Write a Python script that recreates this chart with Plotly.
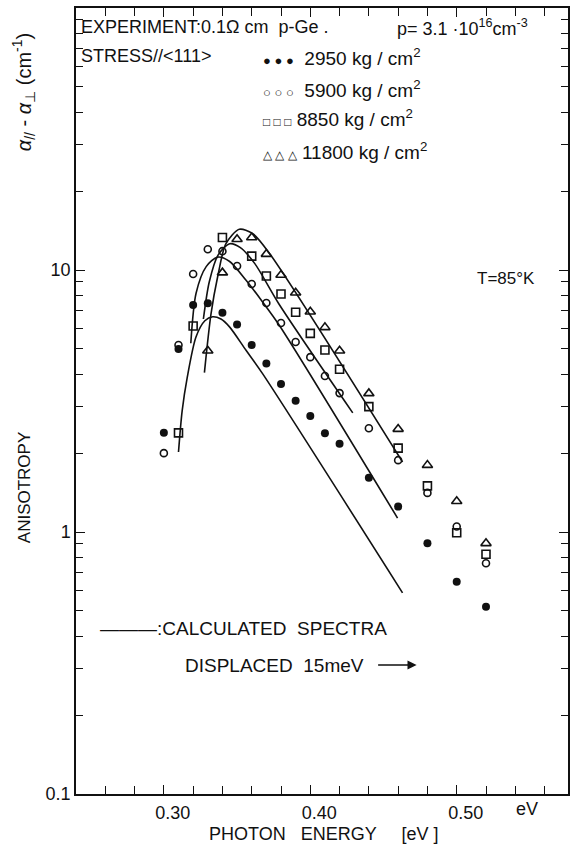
import plotly.graph_objects as go

# ---------------- data ----------------
energy_2950 = [0.30, 0.31, 0.32, 0.33, 0.34, 0.35, 0.36, 0.37, 0.38, 0.39, 0.40, 0.41, 0.42, 0.44, 0.46, 0.48, 0.50, 0.52]
aniso_2950 = [2.39, 4.99, 7.35, 7.46, 6.87, 6.20, 5.17, 4.40, 3.67, 3.17, 2.77, 2.38, 2.17, 1.61, 1.25, 0.905, 0.646, 0.519]

energy_5900 = [0.30, 0.31, 0.32, 0.33, 0.34, 0.35, 0.36, 0.37, 0.38, 0.39, 0.40, 0.41, 0.42, 0.44, 0.46, 0.48, 0.50, 0.52]
aniso_5900 = [2.00, 5.17, 9.65, 12.0, 11.8, 10.36, 8.84, 7.48, 6.28, 5.31, 4.65, 3.94, 3.39, 2.49, 1.88, 1.41, 1.05, 0.76]

energy_8850 = [0.31, 0.32, 0.34, 0.36, 0.37, 0.38, 0.39, 0.40, 0.41, 0.42, 0.44, 0.46, 0.48, 0.50, 0.52]
aniso_8850 = [2.39, 6.11, 13.3, 11.3, 9.49, 8.10, 6.90, 5.73, 4.95, 4.18, 3.01, 2.09, 1.50, 0.994, 0.822]

energy_11800 = [0.33, 0.34, 0.35, 0.36, 0.37, 0.38, 0.39, 0.40, 0.41, 0.42, 0.44, 0.46, 0.48, 0.50, 0.52]
aniso_11800 = [4.92, 9.77, 13.1, 13.3, 11.5, 9.57, 8.19, 6.93, 6.04, 4.92, 3.38, 2.47, 1.80, 1.31, 0.905]

# calculated spectra (displaced 15 meV)
calc1_e = [0.310, 0.3125, 0.316, 0.322, 0.328, 0.3333, 0.339, 0.3447, 0.356, 0.3673, 0.463]
calc1_v = [2.02, 2.9, 3.9, 5.56, 6.4, 6.63, 6.5, 6.08, 4.95, 4.03, 0.586]

calc2_e = [0.3184, 0.322, 0.3289, 0.3367, 0.3447, 0.356, 0.3673, 0.3787, 0.4596]
calc2_v = [5.25, 8.15, 10.3, 11.2, 10.8, 9.16, 7.57, 6.17, 1.13]

calc3_e = [0.327, 0.331, 0.337, 0.345, 0.352, 0.362, 0.3787, 0.429]
calc3_v = [6.5, 9.0, 11.4, 12.6, 12.2, 10.6, 7.4, 2.85]

calc4_e = [0.3277, 0.3322, 0.3367, 0.3424, 0.3515, 0.3605, 0.3720, 0.463]
calc4_v = [4.06, 6.8, 9.4, 12.6, 14.3, 13.8, 11.6, 1.85]

x_tick_vals = [0.30, 0.40, 0.50]
x_tick_text = ["0.30", "0.40", "0.50"]
x_minor_vals = [0.24, 0.26, 0.28, 0.32, 0.34, 0.36, 0.38, 0.42, 0.44, 0.46, 0.48, 0.52, 0.54, 0.56]
y_tick_vals = [0.1, 1, 10]
y_tick_text = ["0.1", "1", "10"]
y_minor_vals = [m * d for d in (0.1, 1, 10) for m in range(2, 10)]

FONT = "Liberation Sans"
BLACK = "#111111"

fig = go.Figure()

for ce, cv in [(calc1_e, calc1_v), (calc2_e, calc2_v), (calc3_e, calc3_v), (calc4_e, calc4_v)]:
    fig.add_trace(go.Scatter(x=ce, y=cv, mode="lines",
                             line=dict(color=BLACK, width=1.6, shape="spline", smoothing=0.8),
                             showlegend=False, hoverinfo="skip"))

fig.add_trace(go.Scatter(x=energy_2950, y=aniso_2950, mode="markers", name="2950",
                         marker=dict(symbol="circle", size=8, color=BLACK), showlegend=False))
fig.add_trace(go.Scatter(x=energy_5900, y=aniso_5900, mode="markers", name="5900",
                         marker=dict(symbol="circle-open", size=7, color=BLACK, line=dict(width=1.6)),
                         showlegend=False))
fig.add_trace(go.Scatter(x=energy_8850, y=aniso_8850, mode="markers", name="8850",
                         marker=dict(symbol="square-open", size=8, color=BLACK, line=dict(width=1.6)),
                         showlegend=False))
fig.add_trace(go.Scatter(x=energy_11800, y=aniso_11800, mode="markers", name="11800",
                         marker=dict(symbol="triangle-up-open", size=9, color=BLACK, line=dict(width=1.6)),
                         showlegend=False))

fig.update_layout(
    width=572, height=846,
    margin=dict(l=76, r=2, t=8, b=52),
    paper_bgcolor="white", plot_bgcolor="white",
    font=dict(family=FONT, color=BLACK, size=16),
    xaxis=dict(range=[0.24, 0.576], tickvals=x_tick_vals, ticktext=x_tick_text,
               ticks="inside", ticklen=9, tickwidth=1.3, tickcolor=BLACK,
               ticklabelshift=9, ticklabelstandoff=2,
               minor=dict(tickvals=x_minor_vals, ticks="inside", ticklen=8, tickwidth=1.3, tickcolor=BLACK),
               showline=True, linecolor=BLACK, linewidth=1.5, mirror="ticks",
               showgrid=False, zeroline=False, tickfont=dict(size=18)),
    yaxis=dict(type="log", range=[-1, 2], tickvals=y_tick_vals, ticktext=y_tick_text,
               ticks="inside", ticklen=9, tickwidth=1.3, tickcolor=BLACK,
               minor=dict(tickvals=y_minor_vals, ticks="inside", ticklen=7, tickwidth=1.3, tickcolor=BLACK),
               showline=True, linecolor=BLACK, linewidth=1.5, mirror="ticks",
               showgrid=False, zeroline=False, tickfont=dict(size=18)),
)

ann = []
def text(x, y, s, size=16, xanchor="left", angle=0):
    ann.append(dict(x=x, y=y, xref="paper", yref="paper", text=s, showarrow=False,
                    xanchor=xanchor, yanchor="middle", textangle=angle,
                    font=dict(family=FONT, size=size, color=BLACK)))

L, R, T, B = 76.0, 570.0, 8.0, 794.0
def px(x):  # pixel -> paper x
    return (x - L) / (R - L)
def py(y):
    return (B - y) / (B - T)

text(px(79), py(27), "EXPERIMENT:0.1Ω cm  p-Ge .", 18)
text(px(396), py(27), "p= 3.1 ·10<sup>16</sup>cm<sup>-3</sup>", 18)
text(px(79), py(56), "STRESS//&lt;111&gt;", 18)
text(px(262), py(57), "<span style='font-size:13px'>● ● ●</span>  2950 kg / cm<sup>2</sup>", 19)
text(px(262), py(89), "<span style='font-size:13px'>○ ○ ○</span>  5900 kg / cm<sup>2</sup>", 19)
text(px(262), py(118), "<span style='font-size:12px'>□ □ □</span> 8850 kg / cm<sup>2</sup>", 19)
text(px(262), py(151), "<span style='font-size:12px'>△ △ △</span> 11800 kg / cm<sup>2</sup>", 19)
text(px(508), py(278), "T=85°K", 17, xanchor="center")
text(px(98), py(628), "———:CALCULATED  SPECTRA", 19)
text(px(183), py(665), "DISPLACED  15meV", 19)
text(px(529), py(809), "eV", 18, xanchor="center")
text(px(325), py(834), "PHOTON   ENERGY     [eV ]", 18, xanchor="center")
text(px(24), py(488), "ANISOTROPY", 17, xanchor="center", angle=-90)
text(px(24), py(92), "<i>α</i><sub>//</sub> - <i>α</i><sub>⊥</sub> (cm<sup>-1</sup>)", 20, xanchor="center", angle=-90)

# arrow after "DISPLACED 15meV"
ann.append(dict(x=px(418), y=py(665), xref="paper", yref="paper", ax=-40, ay=0,
                axref="pixel", ayref="pixel", text="", showarrow=True,
                arrowhead=2, arrowsize=1.3, arrowwidth=1.4, arrowcolor=BLACK))

fig.update_layout(annotations=ann)
fig.write_html("out.html")
